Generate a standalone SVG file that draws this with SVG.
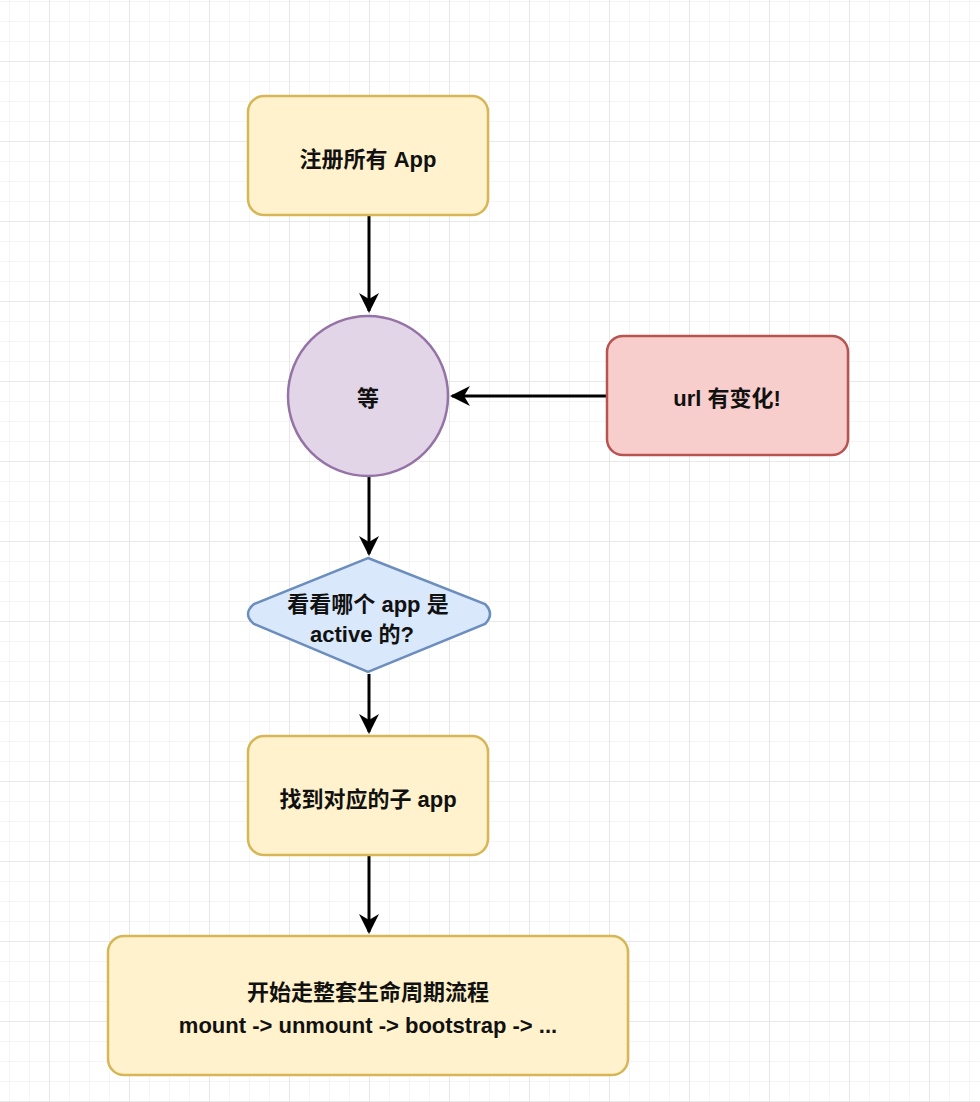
<svg xmlns="http://www.w3.org/2000/svg" width="980" height="1102" viewBox="0 0 980 1102">
<defs>
<pattern id="minor" x="9" y="1" width="20" height="20" patternUnits="userSpaceOnUse"><path d="M0 0H20M0 0V20" fill="none" stroke="#ececec" stroke-width="1"/></pattern>
<pattern id="major" x="49" y="61" width="80" height="80" patternUnits="userSpaceOnUse"><path d="M0 0H80M0 0V80" fill="none" stroke="#dedede" stroke-width="1.2"/></pattern>
<marker id="ah" viewBox="0 0 10 10" refX="9" refY="5" markerWidth="7" markerHeight="7" orient="auto" markerUnits="userSpaceOnUse"><path d="M0 0L10 5L0 10L3 5Z" fill="#000"/></marker>
<marker id="a" viewBox="0 0 10 10" refX="9" refY="5" markerWidth="20" markerHeight="20" orient="auto" markerUnits="userSpaceOnUse"><path d="M0 0L10 5L0 10L3 5Z" fill="#000"/></marker>
</defs>
<style>
.y{fill:#fff2cc;stroke:#d6b656;stroke-width:2.5}
t{}
text{font-family:"Liberation Sans","Noto Sans CJK SC",sans-serif;font-weight:bold;font-size:22px;fill:#111;text-anchor:middle}
.c{fill:none;stroke:#000;stroke-width:3;marker-end:url(#a)}
</style>
<rect width="980" height="1102" fill="#fff"/>
<rect width="980" height="1102" fill="url(#minor)"/>
<rect width="980" height="1102" fill="url(#major)"/>
<g id="connectors">
<path class="c" d="M369 215V311"/>
<path class="c" d="M607 396H452"/>
<path class="c" d="M369 476V554"/>
<path class="c" d="M369 674V732"/>
<path class="c" d="M369 856V932"/>
</g>
<g id="n1"><rect class="y" x="248" y="96" width="240" height="119" rx="16"/><text x="368" y="167">注册所有 App</text></g>
<g id="n2"><circle cx="368" cy="396" r="80" fill="#e1d5e7" stroke="#9673a6" stroke-width="2.5"/><text x="368" y="406">等</text></g>
<g id="n3"><rect x="607" y="336" width="241" height="119" rx="16" fill="#f8cecc" stroke="#b85450" stroke-width="2.5"/><text x="727" y="406">url 有变化!</text></g>
<g id="n4"><path d="M368 558L485 604Q495 614 485 624L368 672L254 624Q242 614 254 604Z" fill="#dae8fc" stroke="#6c8ebf" stroke-width="2.5"/><text x="368" y="612">看看哪个 app 是</text><text x="362" y="642">active 的?</text></g>
<g id="n5"><rect class="y" x="248" y="736" width="240" height="119" rx="16"/><text x="368" y="807">找到对应的子 app</text></g>
<g id="n6"><rect class="y" x="108" y="936" width="520" height="139" rx="16"/><text x="368" y="1000">开始走整套生命周期流程</text><text x="368" y="1033">mount -&gt; unmount -&gt; bootstrap -&gt; ...</text></g>
</svg>
